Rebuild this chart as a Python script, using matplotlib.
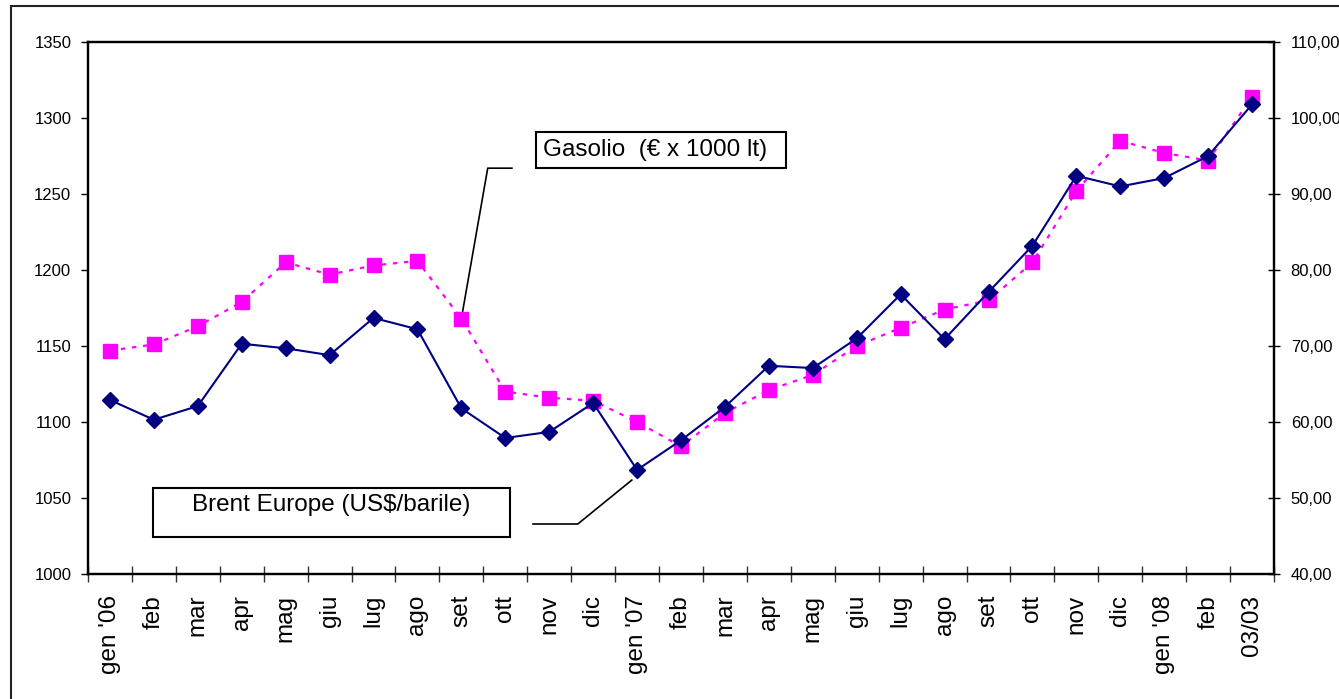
import matplotlib.pyplot as plt
import numpy as np
from matplotlib.patches import Rectangle
from matplotlib.ticker import FuncFormatter

plt.rcParams['font.family'] = ['Liberation Sans', 'DejaVu Sans']

mesi = ["gen '06", "feb", "mar", "apr", "mag", "giu", "lug", "ago", "set", "ott", "nov", "dic",
        "gen '07", "feb", "mar", "apr", "mag", "giu", "lug", "ago", "set", "ott", "nov", "dic",
        "gen '08", "feb", "03/03"]

# gasolio, euro per 1000 litri (asse sinistro)
gasolio = [1147, 1151, 1163, 1179, 1205, 1197, 1203, 1206, 1168, 1120, 1116, 1114,
           1100, 1084, 1106, 1121, 1131, 1150, 1162, 1174, 1180, 1205, 1252, 1285,
           1277, 1272, 1314]

# brent, dollari al barile (asse destro)
brent = [62.9, 60.3, 62.1, 70.3, 69.7, 68.8, 73.7, 72.2, 61.8, 57.9, 58.7, 62.5,
         53.7, 57.6, 62.0, 67.4, 67.1, 71.0, 76.8, 70.9, 77.1, 83.2, 92.4, 91.0,
         92.1, 95.0, 101.8]

x = np.arange(len(mesi))

fig = plt.figure(figsize=(13.39, 6.99), dpi=100)
ax = fig.add_axes([0.0657, 0.1788, 0.8858, 0.7611])
ax2 = ax.twinx()

ax.plot(x, gasolio, color='#FF00FF', lw=1.6, ls=(0, (2, 3)), marker='s', ms=9.5,
        markeredgecolor='#FF00FF', zorder=3)
ax2.plot(x, brent, color='#000080', lw=1.5, marker='D', ms=8.5,
         markeredgecolor='#000080', zorder=4)

ax.set_xlim(-0.5, len(mesi) - 0.5)
ax.set_ylim(1000, 1350)
ax.set_yticks(np.arange(1000, 1351, 50))
ax2.set_ylim(40, 110)
ax2.set_yticks(np.arange(40, 111, 10))
ax2.yaxis.set_major_formatter(FuncFormatter(lambda v, p: f"{v:.2f}".replace('.', ',')))

# tacche tra le categorie, etichette al centro
ax.set_xticks(np.arange(-0.5, len(mesi), 1))
ax.set_xticklabels([])
ax.set_xticks(x, minor=True)
ax.set_xticklabels(mesi, minor=True, rotation=90, fontsize=17.5)
ax.tick_params(axis='x', which='major', direction='inout', length=11, width=1, color='#333333')
ax.tick_params(axis='x', which='minor', length=0, pad=15)
ax.tick_params(axis='y', direction='out', length=5, width=1, labelsize=12, pad=7)
ax2.tick_params(axis='y', direction='inout', length=8, width=1, labelsize=12, pad=8)

for a in (ax, ax2):
    for s in a.spines.values():
        s.set_linewidth(1.6)
        s.set_color('black')

# riquadri delle etichette con linee di richiamo
ax.add_patch(Rectangle((0.3777, 0.7632), 0.2108, 0.0677, transform=ax.transAxes,
                       fill=False, ec='black', lw=1.5, clip_on=False, zorder=5))
ax.text(0.3836, 0.797, "Gasolio  (€ x 1000 lt)", transform=ax.transAxes,
        fontsize=17.5, va='center', ha='left', zorder=6)
ax.plot([8, 8.6, 9.15], [gasolio[8], 1267, 1267], color='black', lw=1.2, zorder=2)

ax.add_patch(Rectangle((0.0548, 0.0695), 0.301, 0.0921, transform=ax.transAxes,
                       fill=False, ec='black', lw=1.5, clip_on=False, zorder=5))
ax.text(0.0877, 0.1297, "Brent Europe (US$/barile)", transform=ax.transAxes,
        fontsize=17.5, va='center', ha='left', zorder=6)
ax.plot([11.88, 10.65, 9.63], [1061.8, 1032.9, 1032.9], color='black', lw=1.2, zorder=2)

# cornice esterna del grafico
fig.add_artist(Rectangle((11 / 1339, -0.05), 1.1, 1 - 6 / 699 + 0.05, transform=fig.transFigure,
                         fill=False, ec='#222222', lw=1.5))

fig.savefig('out.png', dpi=100)
